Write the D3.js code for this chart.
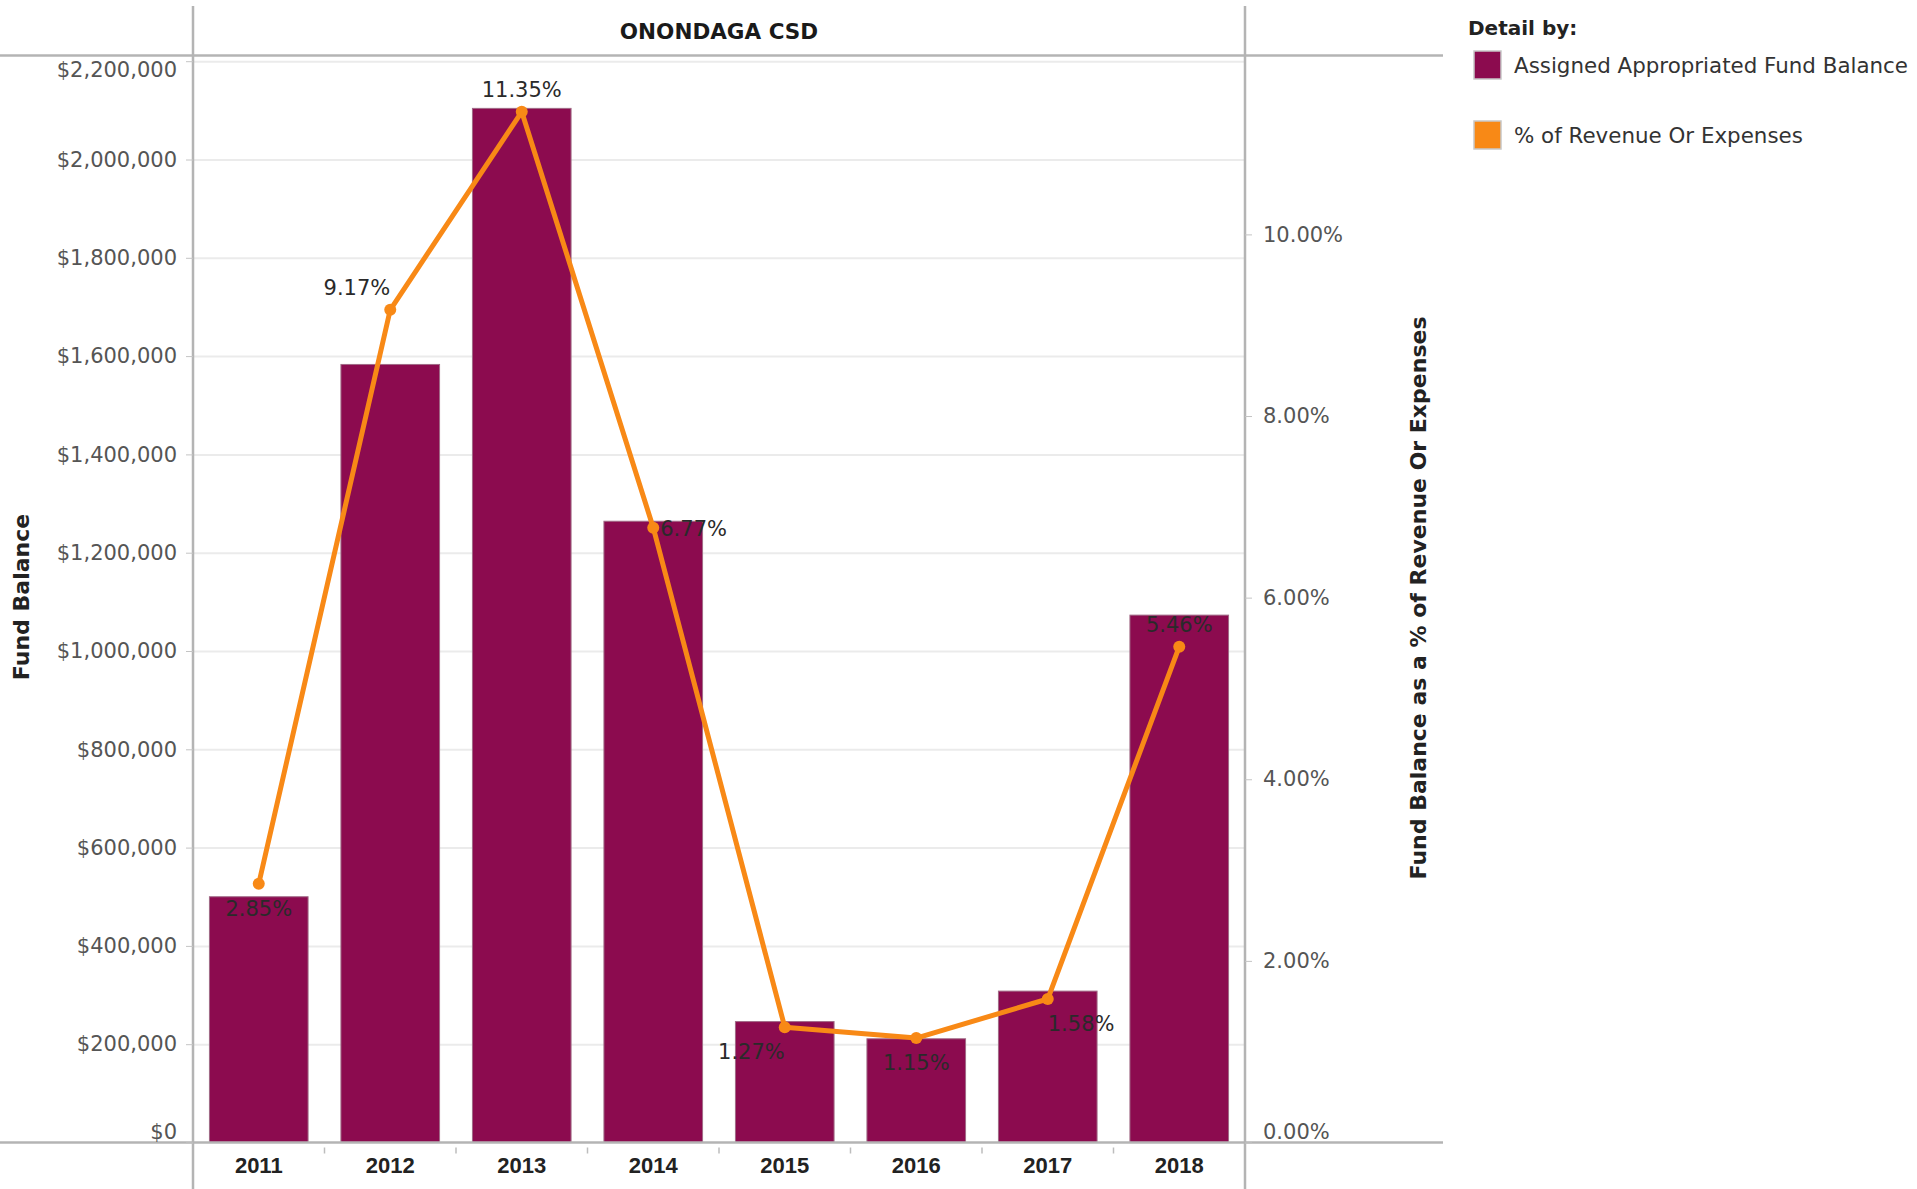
<!DOCTYPE html>
<html>
<head>
<meta charset="utf-8">
<script src="https://cdn.jsdelivr.net/npm/d3@7"></script>
<style>
  body { margin: 0; background: #fff; }
  svg { display: block; }
  .tick-lbl text { font-family: "DejaVu Sans", sans-serif; font-size: 21px; fill: #555; }
  .grid line { stroke: #ebebeb; stroke-width: 2; }
  .grid .domain { display: none; }
</style>
</head>
<body>
<div id="chart"></div>
<script>
// values
const years = ["2011", "2012", "2013", "2014", "2015", "2016", "2017", "2018"];
const fundBalance = [500000, 1583000, 2104000, 1264000, 246000, 211000, 308000, 1073000];
const pctRevenue = [2.85, 9.17, 11.35, 6.77, 1.27, 1.15, 1.58, 5.46];
const leftTicks = [0, 200000, 400000, 600000, 800000, 1000000, 1200000, 1400000, 1600000, 1800000, 2000000, 2200000];
const rightTicks = [0, 2, 4, 6, 8, 10];
const legendItems = ["Assigned Appropriated Fund Balance", "% of Revenue Or Expenses"];
// where tableau put each % label relative to its point
const labelPlace = ["below", "above-left", "above", "right", "below-left", "below", "below-right", "above"];

const W = 1917, H = 1189;
const plotL = 193, plotR = 1245, plotT = 55.5, plotB = 1142.5;
const barColor = "#8c0b4f", lineColor = "#f88916", frameColor = "#b4b4b4";

const svg = d3.select("#chart").append("svg")
    .attr("width", W)
    .attr("height", H);

let x = d3.scaleBand()
    .domain(years)
    .range([plotL, plotR])
    .paddingInner(0.25)
    .paddingOuter(0.125);

let yL = d3.scaleLinear().domain([0, 2211600]).range([plotB, plotT]);
let yR = d3.scaleLinear().domain([0, 11.97]).range([plotB, plotT]);

// gridlines
svg.append("g")
    .attr("class", "grid")
    .attr("transform", "translate(" + plotL + ",0)")
    .call(d3.axisLeft(yL).tickValues(leftTicks.slice(1)).tickSize(-(plotR - plotL)).tickFormat(""));

// bars
svg.selectAll(".bar")
    .data(years)
    .enter()
    .append("rect")
    .attr("class", "bar")
    .attr("x", d => x(d))
    .attr("width", x.bandwidth())
    .attr("y", (d, i) => yL(fundBalance[i]))
    .attr("height", (d, i) => plotB - yL(fundBalance[i]))
    .attr("fill", barColor)
    .attr("stroke", "#a06a86")
    .attr("stroke-width", 1);

// frame lines (tableau pane borders)
svg.append("line").attr("x1", 0).attr("x2", 1443).attr("y1", plotT).attr("y2", plotT)
    .attr("stroke", frameColor).attr("stroke-width", 2.5);
svg.append("line").attr("x1", 0).attr("x2", 1443).attr("y1", plotB).attr("y2", plotB)
    .attr("stroke", frameColor).attr("stroke-width", 2.5);
svg.append("line").attr("x1", plotL).attr("x2", plotL).attr("y1", 6).attr("y2", H)
    .attr("stroke", frameColor).attr("stroke-width", 2.5);
svg.append("line").attr("x1", plotR).attr("x2", plotR).attr("y1", 6).attr("y2", H)
    .attr("stroke", frameColor).attr("stroke-width", 2.5);

// left axis
let axL = svg.append("g")
    .attr("class", "tick-lbl")
    .attr("transform", "translate(" + plotL + ",0)")
    .call(d3.axisLeft(yL)
        .tickValues(leftTicks)
        .tickSize(7)
        .tickPadding(9)
        .tickFormat(d => "$" + d3.format(",")(d)));
axL.select(".domain").remove();
axL.selectAll(".tick line").attr("stroke", "#c4c4c4");
// tableau nudges the end labels inside the pane
axL.selectAll(".tick text").filter(d => d == 0).attr("dy", "-0.2em");
axL.selectAll(".tick text").filter(d => d == 2200000).attr("dy", "0.72em");

// right axis
let axR = svg.append("g")
    .attr("class", "tick-lbl")
    .attr("transform", "translate(" + plotR + ",0)")
    .call(d3.axisRight(yR)
        .tickValues(rightTicks)
        .tickSize(7)
        .tickPadding(11)
        .tickFormat(d => d3.format(".2f")(d) + "%"));
axR.select(".domain").remove();
axR.selectAll(".tick line").attr("stroke", "#c4c4c4");
axR.selectAll(".tick text").filter(d => d == 0).attr("dy", "-0.2em");

// x axis
let axX = svg.append("g")
    .attr("transform", "translate(0," + plotB + ")")
    .call(d3.axisBottom(x).tickSize(0).tickPadding(15));
axX.select(".domain").remove();
axX.selectAll("text")
    .attr("font-family", "'Liberation Sans', Arial, sans-serif")
    .attr("font-weight", "bold")
    .attr("font-size", "22px")
    .attr("fill", "#222");
// little separators between year cells
svg.selectAll(".sep")
    .data(years.slice(1))
    .enter()
    .append("line")
    .attr("x1", d => x(d) - x.step() * x.paddingInner() / 2)
    .attr("x2", d => x(d) - x.step() * x.paddingInner() / 2)
    .attr("y1", plotB + 5)
    .attr("y2", plotB + 11)
    .attr("stroke", "#bdbdbd")
    .attr("stroke-width", 1.5);

// % line
const cx = (d, i) => x(years[i]) + x.bandwidth() / 2;
let line = d3.line()
    .x((d, i) => cx(d, i))
    .y(d => yR(d));

svg.append("path")
    .datum(pctRevenue)
    .attr("d", line)
    .attr("fill", "none")
    .attr("stroke", lineColor)
    .attr("stroke-width", 5)
    .attr("stroke-linejoin", "round");

svg.selectAll(".pt")
    .data(pctRevenue)
    .enter()
    .append("circle")
    .attr("class", "pt")
    .attr("cx", cx)
    .attr("cy", d => yR(d))
    .attr("r", 6)
    .attr("fill", lineColor);

// % labels
svg.selectAll(".plbl")
    .data(pctRevenue)
    .enter()
    .append("text")
    .attr("class", "plbl")
    .attr("font-family", "'DejaVu Sans', sans-serif")
    .attr("font-size", "21px")
    .attr("fill", "#2a2a2a")
    .attr("x", (d, i) => {
        let p = labelPlace[i];
        if (p == "right") return cx(d, i) + 7;
        return cx(d, i);
    })
    .attr("y", (d, i) => {
        let p = labelPlace[i];
        if (p.startsWith("below")) return yR(d) + 32;
        if (p.startsWith("above")) return yR(d) - 15;
        return yR(d) + 8;
    })
    .attr("text-anchor", (d, i) => {
        let p = labelPlace[i];
        if (p.endsWith("left")) return "end";
        if (p == "right" || p.endsWith("-right")) return "start";
        return "middle";
    })
    .text(d => d3.format(".2f")(d) + "%");

// header
svg.append("text")
    .attr("x", (plotL + plotR) / 2)
    .attr("y", 39)
    .attr("text-anchor", "middle")
    .attr("font-family", "'DejaVu Sans', sans-serif")
    .attr("font-weight", "bold")
    .attr("font-size", "21.5px")
    .attr("fill", "#1a1a1a")
    .text("ONONDAGA CSD");

// axis titles
svg.append("text")
    .attr("transform", "translate(29,597) rotate(-90)")
    .attr("text-anchor", "middle")
    .attr("font-family", "'DejaVu Sans', sans-serif")
    .attr("font-weight", "bold")
    .attr("font-size", "22px")
    .attr("fill", "#222")
    .text("Fund Balance");

svg.append("text")
    .attr("transform", "translate(1426,598) rotate(-90)")
    .attr("text-anchor", "middle")
    .attr("font-family", "'DejaVu Sans', sans-serif")
    .attr("font-weight", "bold")
    .attr("font-size", "22px")
    .attr("fill", "#222")
    .text("Fund Balance as a % of Revenue Or Expenses");

// legend
let legend = svg.append("g");
legend.append("text")
    .attr("x", 1468)
    .attr("y", 35)
    .attr("font-family", "'DejaVu Sans', sans-serif")
    .attr("font-weight", "bold")
    .attr("font-size", "20px")
    .attr("fill", "#222")
    .text("Detail by:");

let li = legend.selectAll(".li")
    .data(legendItems)
    .enter()
    .append("g")
    .attr("transform", (d, i) => "translate(1474," + (51 + i * 70) + ")");
li.append("rect")
    .attr("width", 27)
    .attr("height", 28)
    .attr("fill", (d, i) => i == 0 ? barColor : lineColor)
    .attr("stroke", "#c8c8c8")
    .attr("stroke-width", 1.5);
li.append("text")
    .attr("x", 40)
    .attr("y", 22)
    .attr("font-family", "'DejaVu Sans', sans-serif")
    .attr("font-size", "21.4px")
    .attr("fill", "#333")
    .text(d => d);
</script>
</body>
</html>
